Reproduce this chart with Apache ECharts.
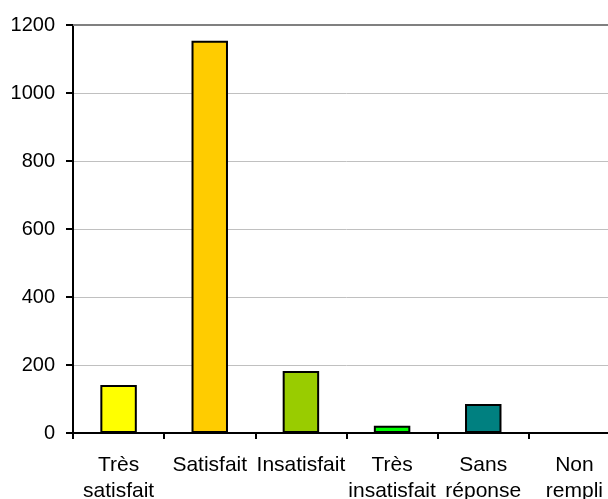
<!DOCTYPE html>
<html><head><meta charset="utf-8">
<script src="https://cdn.jsdelivr.net/npm/echarts@6/dist/echarts.min.js"></script>
<style>html,body{margin:0;padding:0;background:#fff;overflow:hidden;width:608px;height:499px}#c{width:620px;height:499px}</style>
</head><body><div id="c"></div>
<script>
const categories = ['Très\nsatisfait', 'Satisfait', 'Insatisfait', 'Très\ninsatisfait', 'Sans\nréponse', 'Non\nrempli'];
const values = [141, 1154, 182, 21, 85, 0];
const barColors = ['#FFFF00', '#FFCC00', '#99CC00', '#00FF00', '#008080', '#FFFFFF'];
const yTicks = [0, 200, 400, 600, 800, 1000, 1200];

const chart = echarts.init(document.getElementById('c'), null, {renderer: 'canvas'});
const font = '"Liberation Sans", Arial, sans-serif';
chart.setOption({
  animation: false,
  backgroundColor: '#fff',
  grid: {left: 73, right: 0, top: 25, bottom: 66, containLabel: false, outerBoundsMode: 'none'},
  xAxis: [{
    type: 'category', data: categories,
    axisLine: {lineStyle: {color: '#000', width: 2}},
    axisTick: {show: true, length: 6, lineStyle: {color: '#000', width: 2}},
    axisLabel: {color: '#000', fontSize: 21, fontFamily: font, margin: 19, lineHeight: 26, interval: 0}
  }, {
    type: 'category', data: categories, position: 'top',
    axisLine: {show: true, lineStyle: {color: '#808080', width: 2}},
    axisTick: {show: false}, axisLabel: {show: false}
  }],
  yAxis: {
    type: 'value', min: yTicks[0], max: yTicks[yTicks.length - 1], interval: 200,
    axisLine: {show: true, lineStyle: {color: '#000', width: 2}},
    axisTick: {show: true, length: 7, lineStyle: {color: '#000', width: 2}},
    axisLabel: {color: '#000', fontSize: 20, fontFamily: font, margin: 18, formatter: v => String(v)},
    splitLine: {show: true, lineStyle: {color: '#c0c0c0', width: 1}}
  },
  series: [{
    type: 'bar', xAxisIndex: 0,
    data: values.map((v, i) => ({value: v, itemStyle: {color: barColors[i]}})),
    barWidth: '40%',
    itemStyle: {borderColor: '#000', borderWidth: 2}
  }]
});
</script></body></html>
